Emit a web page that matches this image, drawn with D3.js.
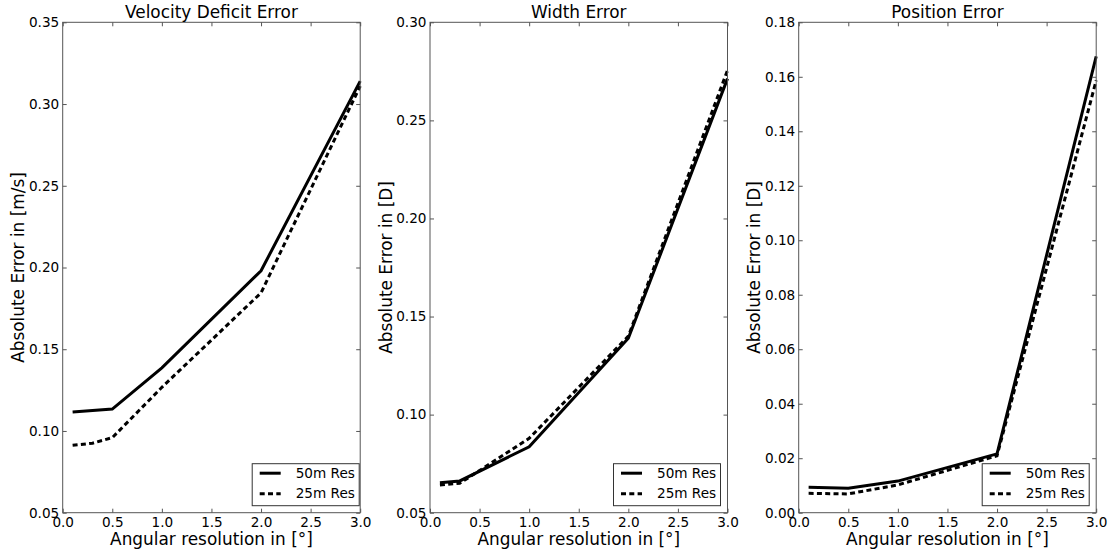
<!DOCTYPE html>
<html>
<head>
<meta charset="utf-8">
<script src="https://cdn.jsdelivr.net/npm/d3@7"></script>
<style>
  body { margin: 0; background: #fff; }
  text { font-family: "DejaVu Sans", sans-serif; fill: #000; }
</style>
</head>
<body>
<div class="graph"></div>
<script>
// data
var titles = ["Velocity Deficit Error", "Width Error", "Position Error"];
var yLabels = ["Absolute Error in [m/s]", "Absolute Error in [D]", "Absolute Error in [D]"];
var xLabel = "Angular resolution in [\u00b0]";
var seriesNames = ["50m Res", "25m Res"];

var velX50 = [0.1, 0.5, 1.0, 2.0, 3.0];
var vel50  = [0.1116, 0.1134, 0.1386, 0.198, 0.314];
var velX25 = [0.1, 0.3, 0.5, 1.0, 2.0, 3.0];
var vel25  = [0.0912, 0.0925, 0.0959, 0.1267, 0.1845, 0.311];

var widX50 = [0.1, 0.3, 1.0, 2.0, 3.0];
var wid50  = [0.0653, 0.0662, 0.0836, 0.1389, 0.2713];
var widX25 = [0.1, 0.3, 0.5, 1.0, 2.0, 3.0];
var wid25  = [0.0641, 0.0650, 0.0715, 0.0879, 0.1400, 0.2755];

var posX = [0.1, 0.5, 1.0, 2.0, 3.0];
var pos50 = [0.0093, 0.0090, 0.0116, 0.0216, 0.1675];
var pos25 = [0.0071, 0.0069, 0.0102, 0.0209, 0.1587];

var xTicks = [0, 0.5, 1.0, 1.5, 2.0, 2.5, 3.0];
var yDomains = [[0.05, 0.35], [0.05, 0.30], [0, 0.18]];
var yTicks = [
  [0.05, 0.10, 0.15, 0.20, 0.25, 0.30, 0.35],
  [0.05, 0.10, 0.15, 0.20, 0.25, 0.30],
  [0, 0.02, 0.04, 0.06, 0.08, 0.10, 0.12, 0.14, 0.16, 0.18]
];

var NS = {};
NS.width = 1112;
NS.height = 554;
NS.lefts = [62.7, 430, 798.7];
NS.legendInset = [1, 7, 7];
NS.pw = 297.5;
NS.top = 22.3;
NS.bottom = 512.7;
NS.frame = "#555";

function makeSVG() {
  var svg = d3.select(".graph")
    .append("svg")
    .attr("width", NS.width)
    .attr("height", NS.height);
  return svg;
}

function main() {
  var svg = makeSVG();
  var panels = [
    [[velX50, vel50], [velX25, vel25]],
    [[widX50, wid50], [widX25, wid25]],
    [[posX, pos50], [posX, pos25]]
  ];
  var dashes = [null, "5,3.3"];

  panels.forEach(function(series, i) {
    var x = d3.scaleLinear().domain([0, 3]).range([NS.lefts[i], NS.lefts[i] + NS.pw]);
    var y = d3.scaleLinear().domain(yDomains[i]).range([NS.bottom, NS.top]);
    var g = svg.append("g");

    // lines
    var line = d3.line().x(function(d) { return x(d[0]); }).y(function(d) { return y(d[1]); });
    series.forEach(function(s, k) {
      var pts = s[0].map(function(v, j) { return [v, s[1][j]]; });
      g.append("path")
        .attr("d", line(pts))
        .attr("fill", "none")
        .attr("stroke", "#000")
        .attr("stroke-width", 3)
        .attr("stroke-dasharray", dashes[k]);
    });

    // axes, ticks inside on all four sides
    var ax = [
      d3.axisBottom(x).tickValues(xTicks).tickFormat(d3.format(".1f")),
      d3.axisLeft(y).tickValues(yTicks[i]).tickFormat(d3.format(".2f")),
      d3.axisTop(x).tickValues(xTicks).tickFormat(""),
      d3.axisRight(y).tickValues(yTicks[i]).tickFormat("")
    ];
    var tr = [
      "translate(0," + NS.bottom + ")",
      "translate(" + NS.lefts[i] + ",0)",
      "translate(0," + NS.top + ")",
      "translate(" + (NS.lefts[i] + NS.pw) + ",0)"
    ];
    ax.forEach(function(a, k) {
      var ag = g.append("g").attr("transform", tr[k])
        .call(a.tickSizeInner(-4).tickSizeOuter(0).tickPadding(k == 0 ? 4.5 : 3.5));
      ag.select(".domain").remove();
      ag.selectAll("line").attr("stroke", NS.frame);
      ag.selectAll("text").attr("font-size", "13.6px").attr("fill", "#000")
        .style("font-family", "DejaVu Sans");
    });

    // frame
    g.append("rect")
      .attr("x", NS.lefts[i]).attr("y", NS.top)
      .attr("width", NS.pw).attr("height", NS.bottom - NS.top)
      .attr("fill", "none").attr("stroke", NS.frame).attr("stroke-width", 1);

    // title and labels
    g.append("text")
      .attr("x", NS.lefts[i] + NS.pw / 2).attr("y", 18)
      .attr("text-anchor", "middle").attr("font-size", "16.9px")
      .text(titles[i]);
    g.append("text")
      .attr("x", NS.lefts[i] + NS.pw / 2).attr("y", 545)
      .attr("text-anchor", "middle").attr("font-size", "16.9px")
      .text(xLabel);
    g.append("text")
      .attr("transform", "translate(" + (NS.lefts[i] - 38.5) + "," + ((NS.top + NS.bottom) / 2) + ") rotate(-90)")
      .attr("text-anchor", "middle").attr("font-size", "16.9px")
      .text(yLabels[i]);

    // legend
    var lw = 107, lh = 42;
    var lx = NS.lefts[i] + NS.pw - NS.legendInset[i] - lw;
    var ly = NS.bottom - 7 - lh;
    var leg = g.append("g").attr("transform", "translate(" + lx + "," + ly + ")");
    leg.append("rect").attr("width", lw).attr("height", lh)
      .attr("fill", "#fff").attr("stroke", "#333").attr("stroke-width", 1);
    seriesNames.forEach(function(name, k) {
      var ry = 9.5 + k * 20.5;
      leg.append("line")
        .attr("x1", 7.5).attr("x2", 28.5).attr("y1", ry).attr("y2", ry)
        .attr("stroke", "#000").attr("stroke-width", 3)
        .attr("stroke-dasharray", dashes[k]);
      leg.append("text")
        .attr("x", 43.5).attr("y", ry + 4.8)
        .attr("font-size", "13.6px")
        .text(name);
    });
  });
}

main();
</script>
</body>
</html>
